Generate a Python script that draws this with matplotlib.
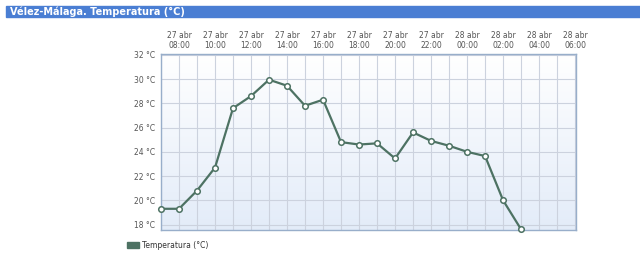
import numpy as np
import matplotlib.pyplot as plt
from matplotlib.patches import Rectangle, Patch

# Hourly readings, 27 abr 07:00 -> 28 abr 03:00 (hour offsets from 27 abr 00:00)
hours = list(range(7, 28))
temps = [19.3, 19.3, 20.8, 22.7, 27.6, 28.6, 29.95, 29.45, 27.8, 28.3, 24.8,
         24.6, 24.7, 23.45, 25.6, 24.9, 24.5, 24.0, 23.65, 20.0, 17.6]

tick_hours = [8, 10, 12, 14, 16, 18, 20, 22, 24, 26, 28, 30]
tick_labels = ['27 abr\n08:00', '27 abr\n10:00', '27 abr\n12:00', '27 abr\n14:00',
               '27 abr\n16:00', '27 abr\n18:00', '27 abr\n20:00', '27 abr\n22:00',
               '28 abr\n00:00', '28 abr\n02:00', '28 abr\n04:00', '28 abr\n06:00']
y_ticks = [18, 20, 22, 24, 26, 28, 30, 32]

line_color = '#4d7263'
grid_color = '#ccd2de'
text_color = '#555555'

W, H = 640, 262
fig = plt.figure(figsize=(W / 100, H / 100), dpi=100)

# title bar
fig.patches.append(Rectangle((6 / W, 1 - 17 / H), 1 - 6 / W, 10.5 / H,
                             transform=fig.transFigure, color='#4a7ed3', zorder=0))
fig.text(10 / W, 1 - 12 / H, 'Vélez-Málaga. Temperatura (°C)', color='white',
         fontsize=7, fontweight='bold', va='center', ha='left')

ax = fig.add_axes([161 / W, 1 - 230 / H, 415 / W, 176 / H])

# soft vertical gradient in plot area
grad = np.linspace(0, 1, 256).reshape(-1, 1)
top_c = np.array([1.0, 1.0, 1.0])
bot_c = np.array([0.89, 0.925, 0.975])
img = top_c + (bot_c - top_c) * grad[..., None]
ax.imshow(img, extent=[0, 1, 0, 1], transform=ax.transAxes, aspect='auto', zorder=0)

ax.set_xlim(7, 30.05)
ax.set_ylim(17.55, 32.07)

ax.set_yticks(y_ticks)
ax.grid(True, color=grid_color, lw=0.8, zorder=1)

ax.plot(hours, temps, color=line_color, lw=1.6, marker='o', ms=4,
        mfc='white', mec=line_color, mew=1.1, zorder=3, clip_on=False)

# labels: only every two hours on the top axis
ax.xaxis.tick_top()
ax.set_xticks(tick_hours, labels=tick_labels)
ax.set_xticks(range(7, 31), minor=True)
ax.grid(True, which='minor', axis='x', color=grid_color, lw=0.8, zorder=1)
ax.set_yticklabels([f'{v} °C' for v in y_ticks])
ax.tick_params(axis='both', which='both', length=0, labelsize=5.5, labelcolor=text_color)
ax.tick_params(axis='x', pad=3)
ax.tick_params(axis='y', pad=4)
for lab in ax.get_xticklabels():
    lab.set_linespacing(1.1)

for s in ax.spines.values():
    s.set_color('#98aeca')
    s.set_linewidth(1.0)

fig.legend(handles=[Patch(color=line_color, label='Temperatura (°C)')],
           loc='center left', bbox_to_anchor=(120 / W, 1 - 245 / H), frameon=False,
           fontsize=5.5, handlelength=1.6, handleheight=0.8, handletextpad=0.4,
           labelcolor='#333333')

fig.savefig('out.png', dpi=100)
